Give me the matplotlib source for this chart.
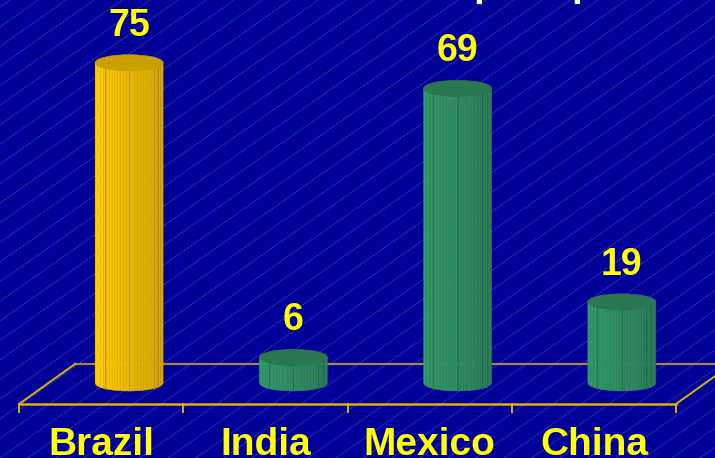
import numpy as np
import matplotlib.pyplot as plt
from matplotlib.patches import Ellipse, Polygon

# data
countries = ['Brazil', 'India', 'Mexico', 'China']
values = [75, 6, 69, 19]
body_light = ['#ffcc00', '#339966', '#339966', '#339966']
body_dark = ['#d2a600', '#2b7d57', '#2b7d57', '#2b7d57']
top_colors = ['#c9a000', '#2a7752', '#2a7752', '#2a7752']

W, H = 715, 458
fig = plt.figure(figsize=(W / 100, H / 100), dpi=100)
ax = fig.add_axes([0, 0, 1, 1])
ax.set_xlim(0, W)
ax.set_ylim(H, 0)
ax.axis('off')
fig.patch.set_facecolor('#000099')

# diagonal stripe background
slope = 0.7
for x0 in np.arange(-700, W + 40, 28):
    ax.plot([x0, x0 + 1200], [H, H - 1200 * slope], color='#8a8ae0',
            lw=0.5, alpha=0.65, ls=(0, (1.5, 1)), zorder=0)

# floor
left, right, front, back, depth = 19, 676, 404, 364, 56
floor_col = '#e0b000'
ax.plot([left + depth, right + depth], [back, back], color='#a8873a', lw=1.6, zorder=1)
ax.plot([left, left + depth], [front, back], color=floor_col, lw=1.4, zorder=1)
ax.plot([right, right + depth], [front, back], color=floor_col, lw=1.4, zorder=1)
ax.plot([left, right], [front, front], color=floor_col, lw=1.8, zorder=5)
slot = (right - left) / len(countries)
for k in range(len(countries) + 1):
    xt = left + slot * k
    ax.plot([xt, xt], [front, front + 8], color=floor_col, lw=1.4, zorder=5)

# cylinders
base_y = 383
px_per_unit = 4.27
rw, rh = 34, 8
for i, (name, v) in enumerate(zip(countries, values)):
    cx = left + slot * (i + 0.5) + 28
    top_y = base_y - v * px_per_unit
    c1 = np.array(plt.matplotlib.colors.to_rgb(body_light[i]))
    c2 = np.array(plt.matplotlib.colors.to_rgb(body_dark[i]))
    n = 24
    edges = np.linspace(-1, 1, n + 1)
    for j in range(n):
        a, b = edges[j], edges[j + 1]
        xs = np.linspace(a, b, 6)
        yb = base_y + rh * np.sqrt(np.clip(1 - xs ** 2, 0, 1))
        poly = [(cx + a * rw, top_y)] + [(cx + xx * rw, yy) for xx, yy in zip(xs, yb)] + [(cx + b * rw, top_y)]
        t = (j + 0.5) / n
        col = c1 * (1 - t) + c2 * t
        ax.add_patch(Polygon(poly, closed=True, facecolor=col, edgecolor=col,
                             lw=0.3, zorder=3))
    # facet lines
    for f in [-0.72, 0.0, 0.72, 0.86]:
        yl = base_y + rh * np.sqrt(1 - f ** 2)
        ax.plot([cx + f * rw, cx + f * rw], [top_y, yl], color=c2 * 0.85,
                lw=0.6, zorder=3.5)
    ax.add_patch(Ellipse((cx, top_y), 2 * rw, 2 * rh, facecolor=top_colors[i],
                         edgecolor=top_colors[i], lw=0.5, zorder=4))
    ax.text(cx, top_y - rh - 19, str(v), color='#ffff00', fontsize=27,
            fontweight='bold', family='Liberation Sans', ha='center',
            va='baseline', zorder=6)
    ax.text(left + slot * (i + 0.5), 455, name, color='#ffff00', fontsize=28,
            fontweight='bold', family='Liberation Sans', ha='center',
            va='baseline', zorder=6)

# cut-off title descenders
for tx in [473, 571]:
    ax.text(tx, -4, 'p', color='white', fontsize=28, fontweight='bold',
            family='Liberation Sans', ha='left', va='baseline', clip_on=False)

fig.savefig('out.png', dpi=100, facecolor=fig.get_facecolor())
